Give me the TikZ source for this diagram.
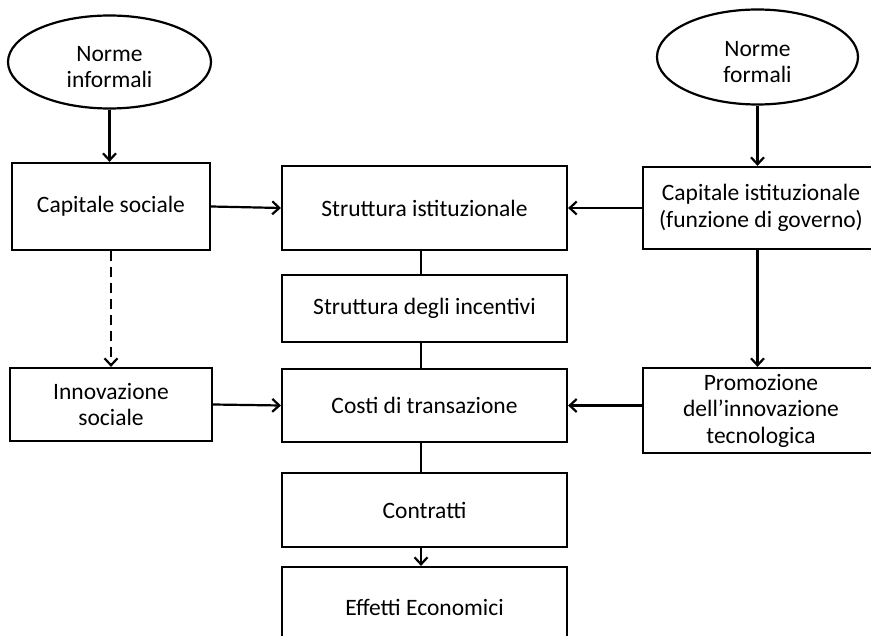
\documentclass[tikz,border=0pt]{standalone}
\usepackage{fontspec}
\setmainfont{Carlito}
\usetikzlibrary{arrows.meta,shapes.geometric}

% lower the text inside a node without changing its reported size
\newcommand{\lowertext}[1]{\raisebox{-7pt}[\height][\depth]{\begin{tabular}{@{}c@{}}#1\end{tabular}}}

\begin{document}
\begin{tikzpicture}[x=1pt,y=-1pt,
  every node/.style={font=\fontsize{23.5}{26.5}\selectfont, text=black, align=center, inner sep=0pt},
  box/.style={draw, line width=2.2pt, rectangle},
  oval/.style={draw, line width=2.2pt, ellipse},
  conn/.style={line width=2.2pt},
  arr/.style={conn, -{Straight Barb[length=7pt,width=13pt,line width=2.2pt]}},
  dashedarr/.style={arr, dash pattern=on 10pt off 6pt}
]
\useasboundingbox (0,0) rectangle (871,636);
\clip (0,0) rectangle (871,636);

% norms
\node[oval, minimum width=203pt, minimum height=93pt] (ninf) at (109.5,62) {\lowertext{Norme\\informali}};
\node[oval, minimum width=201pt, minimum height=95pt] (nfor) at (757.5,57) {\lowertext{Norme\\formali}};

% left column
\node[box, minimum width=198pt, minimum height=87pt] (capsoc) at (111,206.5) {Capitale sociale};
\node[box, minimum width=202pt, minimum height=73pt] (innsoc) at (111,404.5) {Innovazione\\sociale};

% central column
\coordinate (cx) at (421,0);
\node[box, minimum width=285pt, minimum height=84pt] (strist) at (424.5,208) {Struttura istituzionale};
\node[box, minimum width=285pt, minimum height=67pt] (strinc) at (424.5,308.5) {Struttura degli incentivi};
\node[box, minimum width=285pt, minimum height=73pt] (costi) at (424.5,405.5) {Costi di transazione};
\node[box, minimum width=285pt, minimum height=74pt] (contr) at (424.5,510) {Contratti};
\node[box, minimum width=285pt, minimum height=80pt] (eff) at (424.5,607) {Effetti Economici};

% right column
\node[box, minimum width=236pt, minimum height=82pt] (capist) at (761,208) {Capitale istituzionale\\(funzione di governo)};
\node[box, minimum width=236pt, minimum height=85pt] (prom) at (761,410.5) {Promozione\\dell’innovazione\\tecnologica};

% connectors
\draw[arr] (ninf.south) -- (ninf.south |- capsoc.north);
\draw[arr] (nfor.south) -- (nfor.south |- capist.north);
\draw[arr] (capsoc.east) -- (strist.west);
\draw[arr] (capist.west) -- (strist.east);
\draw[dashedarr] (capsoc.south) -- (innsoc.north);
\draw[arr] (nfor.south |- capist.south) -- (nfor.south |- prom.north);
\draw[arr] (innsoc.east) -- (costi.west);
\draw[arr] (prom.west |- costi.east) -- (costi.east);
\draw[conn] (cx |- strist.south) -- (cx |- strinc.north);
\draw[conn] (cx |- strinc.south) -- (cx |- costi.north);
\draw[conn] (cx |- costi.south) -- (cx |- contr.north);
\draw[arr] (cx |- contr.south) -- (cx |- eff.north);
\end{tikzpicture}
\end{document}
